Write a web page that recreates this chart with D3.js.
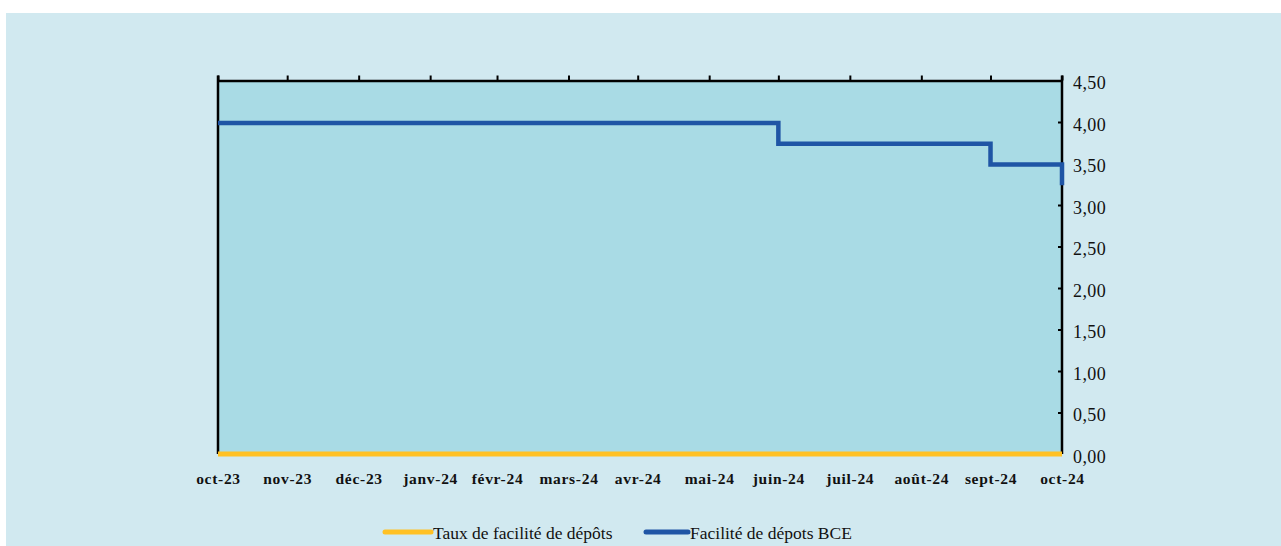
<!DOCTYPE html>
<html lang="fr">
<head>
<meta charset="utf-8">
<script src="https://cdn.jsdelivr.net/npm/d3@7"></script>
<style>
  html, body { margin: 0; padding: 0; background: #ffffff; }
  svg { display: block; }
  text { font-family: "Liberation Serif", "Times New Roman", serif; fill: #111; }
</style>
</head>
<body>
<svg id="chart" width="1281" height="546"></svg>
<script>
// Month-end observation dates and their axis labels
const dates = ["2023-10-31","2023-11-30","2023-12-31","2024-01-31","2024-02-29","2024-03-31",
               "2024-04-30","2024-05-31","2024-06-30","2024-07-31","2024-08-31","2024-09-30","2024-10-31"];
const monthLabels = ["oct-23","nov-23","déc-23","janv-24","févr-24","mars-24","avr-24",
                     "mai-24","juin-24","juil-24","août-24","sept-24","oct-24"];

// Series values (%)
const tauxFacilite = [0,0,0,0,0,0,0,0,0,0,0,0,0];
const facilitBCE   = [4.00,4.00,4.00,4.00,4.00,4.00,4.00,4.00,3.75,3.75,3.75,3.50,3.25];

// Right axis ticks
const yTicks = [0,0.5,1,1.5,2,2.5,3,3.5,4,4.5];

const seriesNames = ["Taux de facilité de dépôts","Facilité de dépots BCE"];
const seriesColors = ["#FFC124","#1F55A5"];

const parse = d3.utcParse("%Y-%m-%d");
const dts = dates.map(parse);

const svg = d3.select("#chart");

// Outer panel
svg.append("rect").attr("x", 6).attr("y", 13).attr("width", 1275).attr("height", 533)
  .attr("fill", "#D1E9F0");

const plot = { left: 218, right: 1062, top: 80.5, bottom: 454 };

const x = d3.scaleUtc().domain([dts[0], dts[dts.length - 1]]).range([plot.left, plot.right]);
const y = d3.scaleLinear().domain([0, 4.5]).range([plot.bottom, plot.top]);

// Plot area fill
svg.append("rect").attr("x", plot.left).attr("y", plot.top)
  .attr("width", plot.right - plot.left).attr("height", plot.bottom - plot.top)
  .attr("fill", "#A9DBE5");

// Top axis: month ticks pointing up, no labels
const topAxis = svg.append("g").attr("transform", `translate(0,${plot.top})`)
  .call(d3.axisTop(x).tickValues(dts).tickSize(5).tickSizeOuter(0).tickFormat(""));
topAxis.select(".domain").attr("stroke", "#000").attr("stroke-width", 2.5);
topAxis.selectAll(".tick line").attr("stroke", "#000").attr("stroke-width", 2);

// Left border line
svg.append("line").attr("x1", plot.left).attr("x2", plot.left)
  .attr("y1", plot.top - 5).attr("y2", plot.bottom)
  .attr("stroke", "#000").attr("stroke-width", 2.5);

// Right value axis with inward ticks
const rightAxis = svg.append("g").attr("transform", `translate(${plot.right},0)`)
  .call(d3.axisRight(y).tickValues(yTicks).tickSize(0).tickPadding(11)
    .tickFormat(d => d3.format(".2f")(d).replace(".", ",")));
rightAxis.select(".domain").remove();
rightAxis.append("line").attr("x1", 0).attr("x2", 0)
  .attr("y1", plot.top - 5).attr("y2", plot.bottom)
  .attr("stroke", "#000").attr("stroke-width", 2.5);
rightAxis.selectAll(".tick").append("line")
  .attr("x1", -4).attr("x2", 0).attr("stroke", "#000").attr("stroke-width", 2);
rightAxis.selectAll(".tick text")
  .attr("font-family", "Liberation Serif, serif").attr("font-size", 18)
  .attr("letter-spacing", "0.4px").attr("fill", "#111").attr("dy", "0.45em");

// Bottom month labels
const bottomAxis = svg.append("g").attr("transform", `translate(0,${plot.bottom})`)
  .call(d3.axisBottom(x).tickValues(dts).tickSize(0).tickPadding(19)
    .tickFormat((d, i) => monthLabels[i]));
bottomAxis.select(".domain").remove();
bottomAxis.selectAll(".tick text")
  .attr("font-family", "Liberation Serif, serif").attr("font-size", 15.5)
  .attr("font-weight", "bold").attr("letter-spacing", "0.7px").attr("fill", "#111");

// Series lines (stepped at each month end)
const line = d3.line()
  .x((d, i) => x(dts[i]))
  .y(d => y(d))
  .curve(d3.curveStepAfter);

svg.append("path").datum(facilitBCE)
  .attr("d", line).attr("fill", "none")
  .attr("stroke", seriesColors[1]).attr("stroke-width", 4.5)
  .attr("stroke-linejoin", "miter")
  .attr("transform", "translate(0,1)");

svg.append("path").datum(tauxFacilite)
  .attr("d", line).attr("fill", "none")
  .attr("stroke", seriesColors[0]).attr("stroke-width", 5);

// Legend
const legendItems = [
  { name: seriesNames[0], color: seriesColors[0], x: 385, w: 46 },
  { name: seriesNames[1], color: seriesColors[1], x: 646, w: 42 }
];
const legend = svg.append("g").attr("transform", "translate(0,532)");
legendItems.forEach(it => {
  legend.append("line").attr("x1", it.x).attr("x2", it.x + it.w)
    .attr("y1", 0).attr("y2", 0)
    .attr("stroke", it.color).attr("stroke-width", 5).attr("stroke-linecap", "round");
  legend.append("text").attr("x", it.x + it.w + 2).attr("y", 6.5)
    .attr("font-size", 17.5).text(it.name);
});
</script>
</body>
</html>
